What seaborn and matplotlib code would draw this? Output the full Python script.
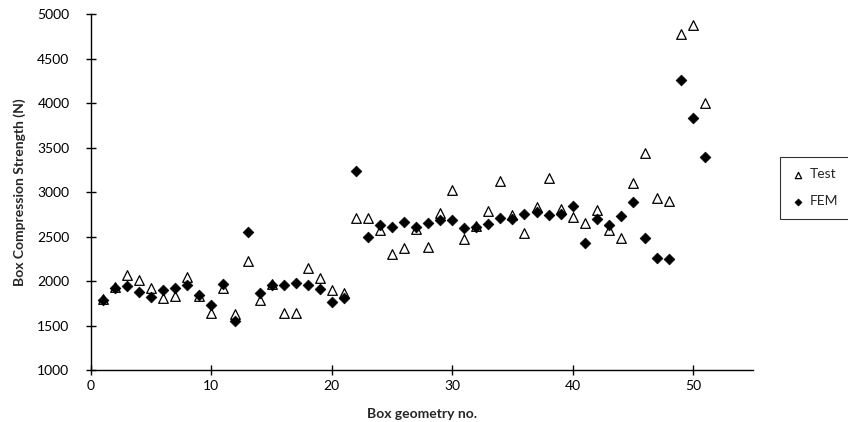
import pandas as pd
import matplotlib
matplotlib.use("Agg")
import matplotlib.pyplot as plt
import seaborn as sns

# Box geometry numbers and strengths (N)
geometry_no = list(range(1, 52))
test_values = [1800, 1930, 2070, 2016, 1922, 1814, 1832, 2045, 1836, 1646,
               1922, 1634, 2221, 1791, 1970, 1646, 1646, 2146, 2038, 1896,
               1866, 2707, 2703, 2570, 2300, 2374, 2587, 2378, 2762, 3024,
               2473, 2617, 2788, 3120, 2737, 2543, 2833, 3163, 2806, 2715,
               2648, 2798, 2570, 2484, 3106, 3442, 2930, 2900, 4774, 4879,
               4002]
fem_values = [1791, 1922, 1940, 1881, 1825, 1900, 1922, 1955, 1847, 1728,
              1970, 1552, 2549, 1870, 1955, 1955, 1978, 1951, 1910, 1769,
              1814, 3233, 2493, 2632, 2610, 2661, 2605, 2647, 2683, 2683,
              2597, 2612, 2635, 2713, 2699, 2752, 2780, 2743, 2752, 2843,
              2428, 2699, 2632, 2727, 2890, 2484, 2258, 2243, 4256, 3830,
              3391]

df = pd.DataFrame({"geometry": geometry_no, "Test": test_values, "FEM": fem_values})

sns.set_style("white")
plt.rcParams["font.family"] = ["Lato", "DejaVu Sans"]

fig = plt.figure(figsize=(8.48, 4.22), dpi=100)
ax = fig.add_axes([0.1073, 0.1232, 0.781, 0.8436])

sns.scatterplot(data=df, x="geometry", y="Test", ax=ax, marker="^", s=48,
                facecolor="white", edgecolor="black", linewidth=0.9, label="Test")
sns.scatterplot(data=df, x="geometry", y="FEM", ax=ax, marker="D", s=30,
                color="black", edgecolor="black", linewidth=0.5, label="FEM")

ax.set_xlim(0, 55)
ax.set_ylim(1000, 5000)
ax.set_xticks([0, 10, 20, 30, 40, 50])
ax.set_yticks(range(1000, 5001, 500))

for side in ["top", "right"]:
    ax.spines[side].set_visible(False)
for side in ["left", "bottom"]:
    ax.spines[side].set_color("black")
    ax.spines[side].set_linewidth(1.0)

ax.tick_params(axis="both", direction="inout", length=7, width=1,
               colors="black", labelsize=10, left=True, bottom=True)
ax.tick_params(axis="y", pad=12)

ax.set_xlabel("Box geometry no.", fontsize=10, fontweight="bold", labelpad=12)
ax.set_ylabel("Box Compression Strength (N)", fontsize=10, fontweight="bold", labelpad=8)

leg = ax.legend(loc="center", bbox_to_anchor=(0.922, 0.464, 0.077, 0.182),
                bbox_transform=fig.transFigure, frameon=True, fancybox=False,
                fontsize=10, handletextpad=0.3, handlelength=1.0,
                labelspacing=1.1, borderpad=0.8, markerscale=0.65)
leg.get_frame().set_edgecolor("black")
leg.get_frame().set_linewidth(0.8)

fig.savefig("out.png", dpi=100)
